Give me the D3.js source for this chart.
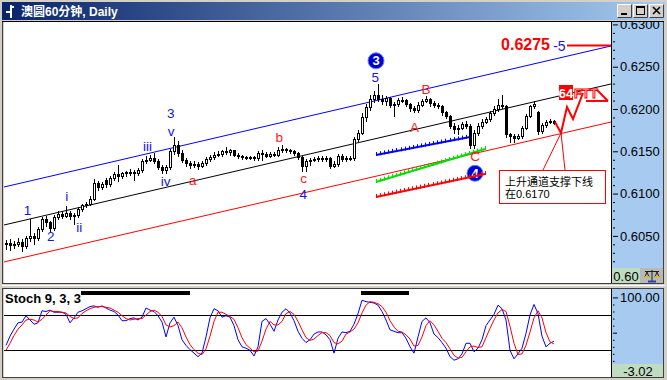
<!DOCTYPE html>
<html><head><meta charset="utf-8">
<script src="https://cdn.jsdelivr.net/npm/d3@7"></script>
<style>
body{margin:0;background:#d4d0c8}
svg{display:block}
text{font-family:"Liberation Sans",Arial,"Noto Sans CJK SC",sans-serif}
</style>
</head><body>
<svg id="c" width="667" height="380"></svg>
<script>
// ---------------- DATA ----------------
const title = "澳圆60分钟, Daily";
const open = [
0.6040,0.6042,0.6039,0.6041,0.6043,0.6038,0.6048,0.6050,0.6047,0.6058,
0.6070,0.6066,0.6059,0.6072,0.6076,0.6074,0.6077,0.6073,0.6075,0.6082,
0.6086,0.6088,0.6094,0.6112,0.6108,0.6116,0.6111,0.6118,0.6123,0.6121,
0.6124,0.6125,0.6126,0.6124,0.6128,0.6138,0.6140,0.6142,0.6139,0.6132,
0.6128,0.6131,0.6150,0.6158,0.6148,0.6140,0.6136,0.6134,0.6135,0.6133,
0.6136,0.6141,0.6143,0.6146,0.6147,0.6150,0.6149,0.6151,0.6146,0.6144,
0.6143,0.6143,0.6143,0.6142,0.6148,0.6147,0.6145,0.6147,0.6146,0.6152,
0.6153,0.6151,0.6150,0.6148,0.6143,0.6133,0.6138,0.6140,0.6141,0.6142,
0.6141,0.6142,0.6133,0.6135,0.6145,0.6141,0.6142,0.6142,0.6165,0.6172,
0.6190,0.6202,0.6212,0.6216,0.6212,0.6209,0.6213,0.6205,0.6206,0.6211,
0.6211,0.6206,0.6201,0.6199,0.6205,0.6210,0.6212,0.6207,0.6205,0.6204,
0.6196,0.6192,0.6180,0.6176,0.6178,0.6182,0.6180,0.6157,0.6172,0.6180,
0.6185,0.6188,0.6195,0.6200,0.6205,0.6203,0.6170,0.6168,0.6166,0.6168,
0.6178,0.6192,0.6203,0.6196,0.6174,0.6181,0.6185,0.6186];
const high = [
0.6045,0.6046,0.6044,0.6047,0.6046,0.6050,0.6070,0.6053,0.6060,0.6072,
0.6073,0.6068,0.6075,0.6080,0.6079,0.6085,0.6079,0.6077,0.6084,0.6088,
0.6090,0.6097,0.6117,0.6115,0.6114,0.6118,0.6121,0.6125,0.6134,0.6126,
0.6127,0.6129,0.6128,0.6130,0.6141,0.6145,0.6146,0.6148,0.6141,0.6134,
0.6134,0.6153,0.6167,0.6162,0.6151,0.6142,0.6139,0.6138,0.6137,0.6139,
0.6143,0.6146,0.6149,0.6150,0.6152,0.6155,0.6153,0.6152,0.6148,0.6146,
0.6145,0.6145,0.6144,0.6150,0.6152,0.6149,0.6149,0.6149,0.6155,0.6157,
0.6154,0.6153,0.6152,0.6149,0.6145,0.6141,0.6142,0.6143,0.6145,0.6144,
0.6145,0.6143,0.6138,0.6147,0.6147,0.6144,0.6145,0.6167,0.6175,0.6195,
0.6206,0.6216,0.6221,0.6229,0.6216,0.6215,0.6214,0.6208,0.6213,0.6214,
0.6212,0.6207,0.6203,0.6208,0.6212,0.6215,0.6213,0.6209,0.6207,0.6205,
0.6198,0.6193,0.6183,0.6181,0.6185,0.6186,0.6182,0.6175,0.6183,0.6188,
0.6190,0.6198,0.6203,0.6212,0.6216,0.6205,0.6172,0.6170,0.6171,0.6180,
0.6194,0.6205,0.6209,0.6198,0.6184,0.6187,0.6188,0.6187];
const low = [
0.6034,0.6033,0.6036,0.6038,0.6032,0.6036,0.6044,0.6040,0.6045,0.6056,
0.6062,0.6056,0.6057,0.6070,0.6071,0.6072,0.6070,0.6064,0.6072,0.6080,
0.6084,0.6086,0.6092,0.6104,0.6105,0.6108,0.6109,0.6116,0.6115,0.6119,
0.6121,0.6122,0.6116,0.6122,0.6126,0.6136,0.6138,0.6136,0.6129,0.6124,
0.6124,0.6129,0.6147,0.6144,0.6137,0.6133,0.6130,0.6131,0.6129,0.6131,
0.6134,0.6139,0.6141,0.6144,0.6145,0.6147,0.6146,0.6144,0.6142,0.6141,
0.6141,0.6141,0.6140,0.6140,0.6140,0.6143,0.6143,0.6144,0.6144,0.6149,
0.6149,0.6148,0.6146,0.6141,0.6127,0.6127,0.6134,0.6138,0.6139,0.6139,
0.6139,0.6130,0.6131,0.6133,0.6138,0.6139,0.6140,0.6140,0.6162,0.6170,
0.6186,0.6199,0.6208,0.6209,0.6206,0.6205,0.6202,0.6192,0.6204,0.6208,
0.6203,0.6198,0.6197,0.6197,0.6203,0.6208,0.6204,0.6202,0.6201,0.6193,
0.6189,0.6177,0.6172,0.6170,0.6176,0.6177,0.6154,0.6154,0.6169,0.6178,
0.6183,0.6186,0.6193,0.6198,0.6201,0.6167,0.6161,0.6161,0.6164,0.6166,
0.6176,0.6190,0.6201,0.6171,0.6172,0.6179,0.6183,0.6182];
const close = [
0.6042,0.6039,0.6041,0.6043,0.6038,0.6048,0.6050,0.6047,0.6058,0.6070,
0.6066,0.6059,0.6072,0.6076,0.6074,0.6077,0.6073,0.6075,0.6082,0.6086,
0.6088,0.6094,0.6112,0.6108,0.6111,0.6111,0.6118,0.6123,0.6121,0.6124,
0.6125,0.6126,0.6124,0.6128,0.6138,0.6140,0.6142,0.6139,0.6132,0.6128,
0.6131,0.6150,0.6158,0.6148,0.6140,0.6136,0.6134,0.6135,0.6133,0.6136,
0.6141,0.6143,0.6146,0.6147,0.6150,0.6149,0.6151,0.6146,0.6144,0.6143,
0.6143,0.6143,0.6142,0.6148,0.6147,0.6145,0.6147,0.6146,0.6152,0.6153,
0.6151,0.6150,0.6148,0.6143,0.6133,0.6138,0.6140,0.6141,0.6142,0.6141,
0.6142,0.6133,0.6135,0.6145,0.6141,0.6142,0.6142,0.6165,0.6172,0.6190,
0.6202,0.6212,0.6216,0.6212,0.6209,0.6213,0.6205,0.6206,0.6211,0.6211,
0.6206,0.6201,0.6199,0.6205,0.6210,0.6212,0.6207,0.6205,0.6204,0.6196,
0.6192,0.6180,0.6176,0.6178,0.6182,0.6180,0.6157,0.6172,0.6180,0.6185,
0.6188,0.6195,0.6200,0.6205,0.6203,0.6170,0.6168,0.6166,0.6168,0.6178,
0.6192,0.6203,0.6206,0.6174,0.6181,0.6185,0.6186,0.6184];

// Stochastic 9,3,3 : %K (blue) and %D (red)
const stochK = [
32,45,55,64,65,74,68,62,64,81, 80,82,79,79,79,76,64,71,79,81,
84,87,88,86,88,85,82,80,75,67, 67,70,71,68,72,85,82,80,74,65,
44,64,72,60,40,32,26,21,16,21, 44,71,84,81,72,74,72,60,40,30,
28,25,17,30,66,70,62,52,68,79, 84,78,67,52,42,36,40,48,51,51,
47,40,21,42,51,50,52,62,77,96, 94,93,92,89,80,68,54,52,50,50,
42,30,21,44,66,71,64,48,43,36, 28,16,11,13,20,35,35,23,28,40,
60,68,76,89,84,68,25,13,20,28, 49,75,90,77,45,30,35,38];
const stochD = [
25,35,46,55,61,68,69,68,65,69, 75,81,80,80,79,78,73,70,71,77,
81,84,86,87,87,86,85,82,79,74, 70,68,69,70,70,75,80,82,79,73,
61,58,60,65,57,44,33,26,21,19, 27,45,66,79,79,76,73,69,57,43,
33,28,23,24,38,55,66,61,61,66, 77,80,76,66,54,43,39,41,46,50,
50,46,36,34,38,48,51,55,64,78, 89,94,93,91,87,79,67,58,52,51,
47,41,31,32,44,60,67,61,52,42, 36,27,18,14,15,23,30,31,29,30,
43,56,68,78,83,80,59,35,19,20, 32,51,71,81,71,50,37,34];
const stochLevels = [75, 25];
const stochBars = [[18.75, 46], [88.75, 100.75]];

const priceTicks = [0.6050, 0.6100, 0.6150, 0.6200, 0.6250, 0.6300];
const stochTicks = [100];
const stochMin = -3.02, stochMax = 100;

// trend channel (bar index, price)
const channelIdx = [-0.5, 151.25];
const channelUpper = [0.61078, 0.62745];
const channelMid = [0.60629, 0.62296];
const channelLower = [0.60192, 0.61846];

// projection lines with hatch marks
const hatchBlue = [[92.5, 0.61456], [116, 0.61669]];
const hatchGreen = [[92.5, 0.61137], [119.75, 0.61527]];
const hatchRed = [[92.5, 0.60960], [119.75, 0.61232]];

// wave labels
const blueLabels = ["1", "2", "i", "ii", "iii", "iv", "v", "3", "4", "5"];
const blueLabelIdx = [5.4, 11.2, 15.2, 18.3, 35.4, 39.9, 41.3, 41.2, 74.3, 92.3];
const blueLabelPrice = [0.6081, 0.6050, 0.6097, 0.6061, 0.6156, 0.6115, 0.6174, 0.6195, 0.6099, 0.6238];
const redLabels = ["a", "b", "c", "A", "B", "C"];
const redLabelIdx = [46.7, 68.3, 74.4, 102.1, 105.0, 117.25];
const redLabelPrice = [0.6116, 0.6167, 0.6118, 0.6179, 0.6224, 0.6144];
const circleLabels = ["3", "4"];
const circleIdx = [92.5, 117.25];
const circlePrice = [0.6257, 0.6124];

// target & projection
const targetText = "0.6275";
const targetWave = "-5";
const targetPrice = 0.6275;
const targetIdx = [136, 136.8, 140.25, 151.25];
const zigzag = [[137.25, 0.61846], [138.75, 0.61716], [140.25, 0.62024], [141.75, 0.61882], [144.25, 0.62189]];
const arrowLines = [[[145, 0.62095], [150.5, 0.62095]], [[147.5, 0.62236], [150.5, 0.62095]]];
const tagText = ["64", "FTT"];
const tagBox = [[138.25, 0.62284], [141.75, 0.62106]];

// callout
const calloutText = ["上升通道支撑下线", "在0.6170"];
const calloutApex = [138.75, 0.61716];
const calloutFeet = [[134.25, 0.61279], [139.75, 0.61279]];
const calloutBox = [[123.25, 0.61279], [149.75, 0.60889]];

// ---------------- LAYOUT ----------------
const N = close.length;
const mainL = 4, mainR = 611, mainT = 22, mainB = 283;
const stT = 289, stB = 377;
const axL = 611, axR = 663;

const x = d3.scaleLinear().domain([0, 137]).range([6, 554]);
const y = d3.scaleLinear().domain([0.60, 0.63]).range([278.2, 24.4]);
const ys = d3.scaleLinear().domain([stochMin, stochMax]).range([370.1, 297.4]);

const svg = d3.select("#c");
const defs = svg.append("defs");
const gr = defs.append("linearGradient").attr("id", "tb").attr("x1", 0).attr("x2", 1).attr("y1", 0).attr("y2", 0);
gr.append("stop").attr("offset", 0).attr("stop-color", "#0a246a");
gr.append("stop").attr("offset", 1).attr("stop-color", "#a6caf0");
defs.append("clipPath").attr("id", "cm").append("rect").attr("x", mainL).attr("y", mainT).attr("width", mainR - mainL).attr("height", mainB - mainT);
defs.append("clipPath").attr("id", "cs").append("rect").attr("x", mainL).attr("y", stT).attr("width", mainR - mainL).attr("height", stB - stT);
defs.append("clipPath").attr("id", "ca").append("rect").attr("x", axL).attr("y", mainT).attr("width", axR - axL).attr("height", mainB - mainT);

// window background
svg.append("rect").attr("width", 667).attr("height", 380).attr("fill", "#d4d0c8");

// title bar
svg.append("rect").attr("x", 2).attr("y", 2).attr("width", 663).attr("height", 18).attr("fill", "url(#tb)");
const icon = svg.append("g").attr("stroke", "#fff").attr("stroke-width", 2);
icon.append("line").attr("x1", 11).attr("x2", 11).attr("y1", 5).attr("y2", 18);
icon.append("line").attr("x1", 6).attr("x2", 11).attr("y1", 12).attr("y2", 12);
icon.append("line").attr("x1", 11).attr("x2", 14).attr("y1", 7).attr("y2", 7);
svg.append("text").attr("x", 21).attr("y", 15.5).attr("fill", "#fff").attr("font-size", 12).attr("font-weight", "bold").text(title);
const btnX = [617, 633, 649];
btnX.forEach((bx, k) => {
  const b = svg.append("g");
  b.append("rect").attr("x", bx).attr("y", 4).attr("width", 15).attr("height", 14).attr("fill", "#d4d0c8");
  b.append("path").attr("d", `M${bx+0.5},${17.5}V4.5H${bx+14.5}`).attr("stroke", "#fff").attr("fill", "none");
  b.append("path").attr("d", `M${bx+0.5},${17.5}H${bx+14.5}V4.5`).attr("stroke", "#404040").attr("fill", "none");
  if (k === 0) b.append("rect").attr("x", bx + 4).attr("y", 13).attr("width", 6).attr("height", 2).attr("fill", "#000");
  if (k === 1) {
    b.append("rect").attr("x", bx + 3.5).attr("y", 6.5).attr("width", 8).attr("height", 8).attr("fill", "none").attr("stroke", "#000").attr("stroke-width", 1);
    b.append("line").attr("x1", bx + 3.5).attr("x2", bx + 11.5).attr("y1", 7.5).attr("y2", 7.5).attr("stroke", "#000").attr("stroke-width", 1);
  }
  if (k === 2) b.append("path").attr("d", `M${bx+4},7L${bx+11},14M${bx+11},7L${bx+4},14`).attr("stroke", "#000").attr("stroke-width", 1.6);
});

// ---------- main panel frame ----------
svg.append("rect").attr("x", 2.5).attr("y", 21.5).attr("width", axR - 2).attr("height", mainB - 21).attr("fill", "none").attr("stroke", "#404040");
svg.append("rect").attr("x", mainL).attr("y", mainT).attr("width", mainR - mainL).attr("height", mainB - mainT).attr("fill", "#fff");
svg.append("rect").attr("x", axL + 1).attr("y", mainT).attr("width", axR - axL - 1).attr("height", mainB - mainT).attr("fill", "#a6caf0");
svg.append("line").attr("x1", axL + 0.5).attr("x2", axL + 0.5).attr("y1", mainT).attr("y2", mainB).attr("stroke", "#000");
svg.append("line").attr("x1", 2).attr("x2", axR + 1).attr("y1", mainT - 0.5).attr("y2", mainT - 0.5).attr("stroke", "#000");

// ---------- stoch panel frame ----------
svg.append("line").attr("x1", 2).attr("x2", 665).attr("y1", 285.5).attr("y2", 285.5).attr("stroke", "#fff");
svg.append("rect").attr("x", 2.5).attr("y", stT - 0.5).attr("width", axR - 2).attr("height", stB - stT + 1).attr("fill", "none").attr("stroke", "#404040");
svg.append("rect").attr("x", mainL).attr("y", stT).attr("width", mainR - mainL).attr("height", stB - stT).attr("fill", "#fff");
svg.append("rect").attr("x", axL + 1).attr("y", stT).attr("width", axR - axL - 1).attr("height", 75).attr("fill", "#a6caf0");
svg.append("line").attr("x1", axL + 0.5).attr("x2", axL + 0.5).attr("y1", stT).attr("y2", stB).attr("stroke", "#000");

// ---------- main plot contents ----------
const gm = svg.append("g").attr("clip-path", "url(#cm)");

// channel lines
const chLine = d3.line().x(d => x(d[0])).y(d => y(d[1]));
[[channelUpper, "#0000ff"], [channelMid, "#000000"], [channelLower, "#ff0000"]].forEach(([ch, col]) => {
  gm.append("path").attr("d", chLine(channelIdx.map((ix, k) => [ix, ch[k]]))).attr("stroke", col).attr("fill", "none").attr("stroke-width", 1);
});

// circles (drawn under hatch lines)
circleLabels.forEach((t, k) => {
  const cx = x(circleIdx[k]), cy = y(circlePrice[k]);
  gm.append("circle").attr("cx", cx).attr("cy", cy).attr("r", 8).attr("fill", "#0000d0").attr("stroke", "#6080ff").attr("stroke-width", 1);
  gm.append("text").attr("x", cx).attr("y", cy + 4.5).attr("text-anchor", "middle").attr("fill", "#fff").attr("font-size", 13).attr("font-weight", "bold").text(t);
});

// hatched projection lines
[[hatchBlue, "#0000ff"], [hatchGreen, "#00e000"], [hatchRed, "#ff0000"]].forEach(([h, col]) => {
  const x0 = x(h[0][0]), x1 = x(h[1][0]), y0 = y(h[0][1]), y1 = y(h[1][1]);
  gm.append("line").attr("x1", x0).attr("x2", x1).attr("y1", y0).attr("y2", y1).attr("stroke", col).attr("stroke-width", 2);
  const n = Math.floor((x1 - x0) / 4);
  const pts = d3.range(n + 1).map(k => k / n);
  gm.append("g").selectAll("line").data(pts).join("line")
    .attr("x1", t => Math.round(x0 + (x1 - x0) * t) + 0.5).attr("x2", t => Math.round(x0 + (x1 - x0) * t) + 0.5)
    .attr("y1", t => y0 + (y1 - y0) * t - 3).attr("y2", t => y0 + (y1 - y0) * t + 1)
    .attr("stroke", col).attr("stroke-width", 1);
});

// candles
const bars = d3.range(N).map(i => ({ i, o: open[i], h: high[i], l: low[i], c: close[i] }));
const gc = gm.append("g");
gc.selectAll("line").data(bars).join("line")
  .attr("x1", d => Math.round(x(d.i)) + 0.5).attr("x2", d => Math.round(x(d.i)) + 0.5)
  .attr("y1", d => Math.round(y(d.h))).attr("y2", d => Math.round(y(d.l)) + 1)
  .attr("stroke", "#000").attr("stroke-width", 1);
gc.selectAll("rect").data(bars).join("rect")
  .each(function (d) {
    const cx = Math.round(x(d.i));
    const t = Math.round(y(Math.max(d.o, d.c))), b = Math.round(y(Math.min(d.o, d.c)));
    const s = d3.select(this);
    if (d.c >= d.o) {
      s.attr("x", cx - 0.5).attr("y", t + 0.5).attr("width", 2).attr("height", Math.max(b - t, 1))
        .attr("fill", "#fff").attr("stroke", "#000").attr("stroke-width", 1);
    } else {
      s.attr("x", cx - 1).attr("y", t).attr("width", 3).attr("height", Math.max(b - t + 1, 2)).attr("fill", "#000");
    }
  });

// wave labels
blueLabels.forEach((t, k) => {
  gm.append("text").attr("x", x(blueLabelIdx[k])).attr("y", y(blueLabelPrice[k]) + 5).attr("text-anchor", "middle")
    .attr("fill", "#1414e6").attr("font-size", 13.5).text(t);
});
redLabels.forEach((t, k) => {
  gm.append("text").attr("x", x(redLabelIdx[k])).attr("y", y(redLabelPrice[k]) + 5).attr("text-anchor", "middle")
    .attr("fill", "#ff1a1a").attr("font-size", 13.5).text(t);
});

// target
const ty = y(targetPrice);
gm.append("text").attr("x", x(targetIdx[0])).attr("y", ty + 4.5).attr("text-anchor", "end").attr("fill", "#ff0000")
  .attr("font-size", 16).attr("font-weight", "bold").text(targetText);
gm.append("text").attr("x", x(targetIdx[1])).attr("y", ty + 5).attr("fill", "#1414e6").attr("font-size", 14).text(targetWave);
gm.append("line").attr("x1", x(targetIdx[2])).attr("x2", x(targetIdx[3])).attr("y1", ty).attr("y2", ty).attr("stroke", "#ff0000").attr("stroke-width", 2);

// zigzag projection & arrow
gm.append("path").attr("d", chLine(zigzag)).attr("stroke", "#ff0000").attr("stroke-width", 2).attr("fill", "none");
arrowLines.forEach(a => gm.append("path").attr("d", chLine(a)).attr("stroke", "#ff0000").attr("stroke-width", 2).attr("fill", "none"));
gm.append("rect").attr("x", x(tagBox[0][0])).attr("y", y(tagBox[0][1])).attr("width", x(tagBox[1][0]) - x(tagBox[0][0]))
  .attr("height", y(tagBox[1][1]) - y(tagBox[0][1])).attr("fill", "#ff0000");
gm.append("text").attr("x", (x(tagBox[0][0]) + x(tagBox[1][0])) / 2).attr("y", y(tagBox[1][1]) - 2.5).attr("text-anchor", "middle")
  .attr("fill", "#fff").attr("font-size", 13).attr("font-weight", "bold").text(tagText[0]);
gm.append("text").attr("x", x(tagBox[1][0]) + 1).attr("y", y(tagBox[1][1]) - 2.5).attr("fill", "#fff").attr("stroke", "#ff0000")
  .attr("stroke-width", 1).attr("font-size", 13).attr("font-weight", "bold").text(tagText[1]);

// callout
calloutFeet.forEach(f => gm.append("path").attr("d", chLine([f, calloutApex])).attr("stroke", "#ff0000").attr("stroke-width", 1).attr("fill", "none"));
const bx0 = x(calloutBox[0][0]), bx1 = x(calloutBox[1][0]), by0 = y(calloutBox[0][1]), by1 = y(calloutBox[1][1]);
gm.append("rect").attr("x", Math.round(bx0) + 0.5).attr("y", Math.round(by0) + 0.5).attr("width", Math.round(bx1 - bx0)).attr("height", Math.round(by1 - by0))
  .attr("fill", "#fff").attr("stroke", "#ff0000").attr("stroke-width", 1);
calloutText.forEach((t, k) => {
  gm.append("text").attr("x", bx0 + 6).attr("y", by0 + 16 + k * 12.5).attr("fill", "#000").attr("font-size", 11)
    .attr("font-family", "'Noto Sans CJK SC','Liberation Sans',sans-serif").text(t);
});

// ---------- main axis ----------
const axWrap = svg.append("g").attr("clip-path", "url(#ca)");
const axG = axWrap.append("g").attr("transform", `translate(${axL + 2},0)`);
axG.call(d3.axisRight(y).tickValues(d3.range(0.600, 0.6305, 0.001).filter(v => Math.round(v * 10000) % 50 !== 0)).tickSize(2).tickFormat(""));
axG.select(".domain").remove();
const axM = axWrap.append("g").attr("transform", `translate(${axL + 2},0)`);
axM.call(d3.axisRight(y).tickValues(priceTicks).tickFormat(d3.format(".4f")).tickSize(5).tickPadding(2));
axM.select(".domain").remove();
[axG, axM].forEach(g => { g.selectAll("line").attr("stroke", "#000"); });
axM.selectAll("text").attr("font-size", 13).attr("fill", "#000").attr("font-family", "'Liberation Sans',Arial,sans-serif");
// bottom corner of main axis
svg.append("rect").attr("x", axL + 1).attr("y", 268).attr("width", 28).attr("height", mainB - 268).attr("fill", "#c0dcc0");
svg.append("text").attr("x", axL + 15).attr("y", 281).attr("text-anchor", "middle").attr("font-size", 13).attr("fill", "#000").text("0.60");
svg.append("rect").attr("x", axL + 29).attr("y", 268).attr("width", axR - axL - 29).attr("height", mainB - 268).attr("fill", "#b8b8b8");
const ic = svg.append("g").attr("stroke", "#202020").attr("stroke-width", 1).attr("fill", "none");
ic.append("path").attr("d", "M645,271.5H659M652,270V281M647,272L645,277H649ZM657,272L655,277H659Z");
ic.append("path").attr("d", "M645,277H649M655,277H659").attr("stroke", "#e0c000").attr("stroke-width", 2);
ic.append("path").attr("d", "M648,281.5H656").attr("stroke", "#2040c0").attr("stroke-width", 2);

// ---------- stochastic panel ----------
const gs = svg.append("g").attr("clip-path", "url(#cs)");
gs.selectAll("line.lvl").data(stochLevels).join("line").attr("class", "lvl")
  .attr("x1", mainL).attr("x2", mainR).attr("y1", d => Math.round(ys(d)) + 0.5).attr("y2", d => Math.round(ys(d)) + 0.5)
  .attr("stroke", "#000").attr("stroke-width", 1);
gs.selectAll("rect.sb").data(stochBars).join("rect").attr("class", "sb")
  .attr("x", d => x(d[0])).attr("width", d => x(d[1]) - x(d[0])).attr("y", stT + 2).attr("height", 4).attr("fill", "#000");
const sLine = d3.line().x((d, i) => x(i)).y(d => ys(d));
gs.append("path").attr("d", sLine(stochK)).attr("stroke", "#0000ff").attr("stroke-width", 1).attr("fill", "none");
gs.append("path").attr("d", sLine(stochD)).attr("stroke", "#ff0000").attr("stroke-width", 1).attr("fill", "none");
gs.append("text").attr("x", 5).attr("y", 303).attr("font-size", 13).attr("font-weight", "bold").attr("fill", "#000").text("Stoch 9, 3, 3");

const sAx = svg.append("g").attr("transform", `translate(${axL + 2},0)`);
sAx.call(d3.axisRight(ys).tickValues(stochTicks).tickFormat(d3.format(".2f")).tickSize(5).tickPadding(2));
sAx.select(".domain").remove();
sAx.selectAll("line").attr("stroke", "#000");
sAx.selectAll("text").attr("font-size", 13).attr("fill", "#000").attr("font-family", "'Liberation Sans',Arial,sans-serif");
const sMin = svg.append("g").attr("transform", `translate(${axL + 2},0)`);
sMin.call(d3.axisRight(ys).tickValues([90, 80, 70, 60, 40, 30, 20, 10]).tickSize(1.5).tickFormat(""));
sMin.select(".domain").remove();
sMin.selectAll("line").attr("stroke", "#000");
const sMid = svg.append("g").attr("transform", `translate(${axL + 2},0)`);
sMid.call(d3.axisRight(ys).tickValues([50]).tickSize(4).tickFormat(""));
sMid.select(".domain").remove();
sMid.selectAll("line").attr("stroke", "#000");
svg.append("rect").attr("x", axL + 1).attr("y", 364).attr("width", axR - axL - 1).attr("height", stB - 364).attr("fill", "#c0dcc0");
svg.append("text").attr("x", (axL + axR) / 2 + 1).attr("y", 375.5).attr("text-anchor", "middle").attr("font-size", 13).attr("fill", "#000").text(stochMin.toFixed(2));
</script>
</body></html>
